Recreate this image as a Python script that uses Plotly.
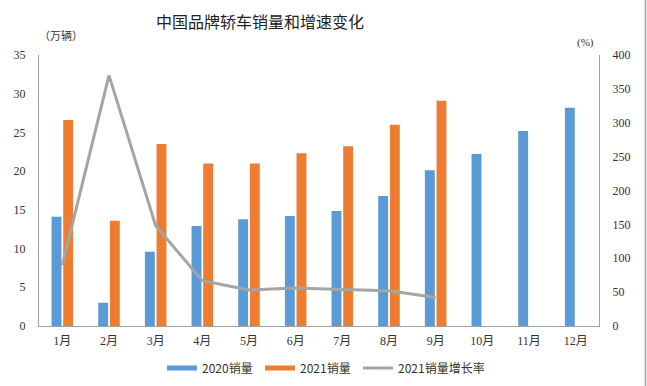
import plotly.graph_objects as go

months = ["1月", "2月", "3月", "4月", "5月", "6月", "7月", "8月", "9月", "10月", "11月", "12月"]
sales_2020 = [14.1, 3.0, 9.6, 12.9, 13.8, 14.2, 14.85, 16.8, 20.1, 22.2, 25.2, 28.2]
sales_2021 = [26.6, 13.6, 23.5, 21.0, 21.0, 22.3, 23.2, 26.0, 29.1, None, None, None]
growth_2021 = [90, 370, 148, 67, 53, 56, 54, 52, 42, None, None, None]

W, H = 647, 386
ML, MR, MT, MB = 39, 48, 55, 60
PW, PH = W - ML - MR, H - MT - MB

serif = "Liberation Serif, Noto Sans CJK SC, serif"
cjk = "Noto Sans CJK SC, sans-serif"
BLUE, ORANGE, GRAY = "#5B9BD5", "#ED7D31", "#A5A5A5"

fig = go.Figure()
fig.add_trace(go.Bar(x=months, y=sales_2020, name="2020销量", marker_color=BLUE,
                     marker_line_width=0, showlegend=False))
fig.add_trace(go.Bar(x=months, y=sales_2021, name="2021销量", marker_color=ORANGE,
                     marker_line_width=0, showlegend=False))
fig.add_trace(go.Scatter(x=months, y=growth_2021, name="2021销量增长率", mode="lines",
                         line=dict(color=GRAY, width=3), yaxis="y2", legend="legend3"))
# legend-only entries (Excel-style wide swatches for bars)
fig.add_trace(go.Scatter(x=[None], y=[None], name="2020销量", mode="lines",
                         line=dict(color=BLUE, width=5), legend="legend"))
fig.add_trace(go.Scatter(x=[None], y=[None], name="2021销量", mode="lines",
                         line=dict(color=ORANGE, width=5), legend="legend2"))

leg_y = -(368 - 326) / PH
leg_common = dict(orientation="h", xanchor="left", y=leg_y, yanchor="middle",
                  font=dict(family=cjk, size=12, color="#333333"), itemwidth=30,
                  bgcolor="rgba(0,0,0,0)")

fig.update_layout(
    width=W, height=H,
    margin=dict(l=ML, r=MR, t=MT, b=MB, autoexpand=False),
    paper_bgcolor="white", plot_bgcolor="white",
    barmode="group", bargap=0.5, bargroupgap=0.15,
    title=dict(text="中国品牌轿车销量和增速变化", x=260 / W, xanchor="center",
               y=1 - 22 / H, yanchor="middle",
               font=dict(family=cjk, size=16, color="#222222")),
    xaxis=dict(showline=True, linecolor="#A0A0A0", linewidth=1, showgrid=False,
               ticks="", tickfont=dict(family=serif, size=12, color="#333333"),
               ticklabelstandoff=4, automargin=False),
    yaxis=dict(range=[0, 35], dtick=5, showline=True, linecolor="#A0A0A0", linewidth=1,
               showgrid=False, zeroline=False, ticks="",
               tickfont=dict(family=serif, size=12, color="#333333"),
               ticklabelstandoff=10, automargin=False),
    yaxis2=dict(range=[0, 400], dtick=50, overlaying="y", side="right", showline=True,
                linecolor="#A0A0A0", linewidth=1, showgrid=False, zeroline=False, ticks="",
                tickfont=dict(family=serif, size=12, color="#333333"),
                ticklabelstandoff=10, automargin=False),
    legend=dict(x=(162 - ML) / PW, **leg_common),
    legend2=dict(x=(260 - ML) / PW, **leg_common),
    legend3=dict(x=(358 - ML) / PW, **leg_common),
    showlegend=True,
)

fig.add_annotation(text="（万辆）", xref="paper", yref="paper", x=-2 / PW, y=1 + 10 / PH,
                   xanchor="left", yanchor="bottom", showarrow=False,
                   font=dict(family=cjk, size=11, color="#333333"))
fig.add_annotation(text="(%)", xref="paper", yref="paper", x=1 - 3 / PW, y=1 + 4 / PH,
                   xanchor="right", yanchor="bottom", showarrow=False,
                   font=dict(family=serif, size=11, color="#333333"))
fig.add_shape(type="line", xref="paper", yref="paper",
              x0=(645.5 - ML) / PW, x1=(645.5 - ML) / PW, y0=-MB / PH - 0.05, y1=1 + MT / PH + 0.05,
              line=dict(color="#A0A0A0", width=1.5))

fig.write_html("out.html", config={"displayModeBar": False},
               post_script="document.body.style.margin='0';document.body.style.padding='0';")
